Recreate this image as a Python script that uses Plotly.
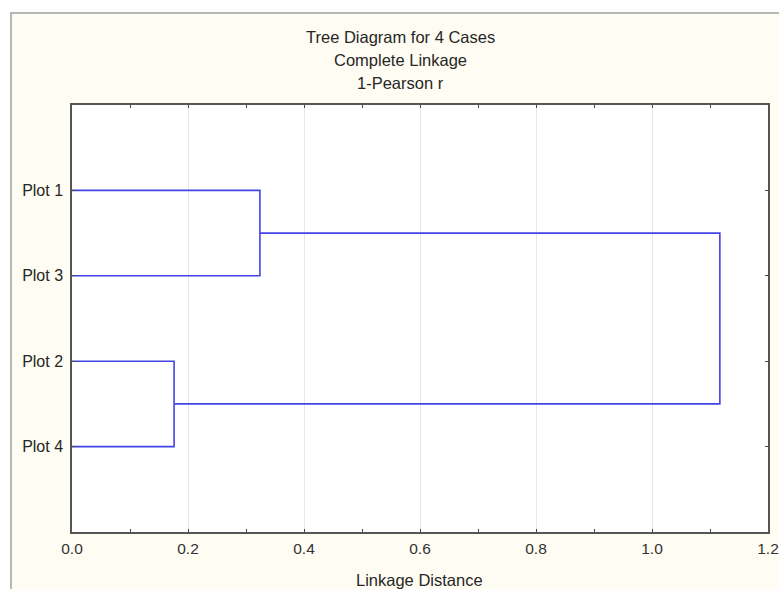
import plotly.graph_objects as go

# Data
leaf_labels = ["Plot 1", "Plot 3", "Plot 2", "Plot 4"]
# merges: (left member, right member, linkage distance); members index leaves (0..3) or clusters (4..)
merge_left = [2, 0, 5]
merge_right = [3, 1, 4]
merge_dist = [0.176, 0.324, 1.117]
x_ticks = [0.0, 0.2, 0.4, 0.6, 0.8, 1.0, 1.2]
title_lines = ["Tree Diagram for 4 Cases", "Complete Linkage", "1-Pearson r"]
x_title = "Linkage Distance"

W, H = 779, 589
ML, MR, MT, MB = 72, 11, 105, 57
PW = W - ML - MR
PH = H - MT - MB

# leaf positions: first label at top
n = len(leaf_labels)
pos = {i: (0.0, n - i) for i in range(n)}  # (x, y)
ys_leaf = [n - i for i in range(n)]

fig = go.Figure()
line_color = "#4444e4"
for k, (a, b, d) in enumerate(zip(merge_left, merge_right, merge_dist)):
    xa, ya = pos[a]
    xb, yb = pos[b]
    fig.add_trace(go.Scatter(
        x=[xa, d, d, xb], y=[ya, ya, yb, yb], mode="lines",
        line=dict(color=line_color, width=1.6), showlegend=False, hoverinfo="skip"))
    pos[n + k] = (d, (ya + yb) / 2)

def px_to_paper_x(px):
    return (px - ML) / PW

def px_to_paper_y(py):
    return 1 - (py - MT) / PH

# outer frame (cream panel)
fig.add_shape(type="rect", xref="paper", yref="paper",
              x0=px_to_paper_x(11), x1=px_to_paper_x(W + 10),
              y0=px_to_paper_y(H + 10), y1=px_to_paper_y(13),
              fillcolor="#fffdf3", line=dict(color="#a0a0a0", width=1.5), layer="below")
fig.add_shape(type="rect", xref="paper", yref="paper", x0=0, x1=1, y0=0, y1=1,
              fillcolor="white", line=dict(width=0), layer="below")

for i, t in enumerate(title_lines):
    fig.add_annotation(text=t, xref="paper", yref="paper",
                       x=px_to_paper_x(400), y=px_to_paper_y(37 + 23 * i),
                       showarrow=False, xanchor="center", yanchor="middle",
                       font=dict(size=16.5, color="#262626"))
fig.add_annotation(text=x_title, xref="paper", yref="paper",
                   x=px_to_paper_x(419), y=px_to_paper_y(580),
                   showarrow=False, xanchor="center", yanchor="middle",
                   font=dict(size=16.5, color="#262626"))

fig.update_layout(
    width=W, height=H,
    margin=dict(l=ML, r=MR, t=MT, b=MB, autoexpand=False),
    paper_bgcolor="white", plot_bgcolor="rgba(0,0,0,0)",
    font=dict(family="Liberation Sans, Arial, sans-serif", size=15, color="#262626"),
    xaxis=dict(range=[0, 1.2], tickvals=x_ticks, ticktext=[f"{v:.1f}" for v in x_ticks],
               automargin=False, ticklabelstandoff=2,
               showgrid=True, gridcolor="#e6e6e6", gridwidth=1,
               showline=True, linecolor="#555555", linewidth=1.5, mirror="ticks",
               ticks="inside", ticklen=3, tickcolor="#444444",
               minor=dict(dtick=0.1, ticks="inside", ticklen=3, tickcolor="#444444", showgrid=False),
               zeroline=False, tickfont=dict(size=15.5, color="#333333")),
    yaxis=dict(range=[0, n + 1], tickvals=ys_leaf, ticktext=leaf_labels,
               automargin=False, ticklabelstandoff=4,
               showgrid=False, showline=True, linecolor="#555555", linewidth=1.5,
               mirror="ticks", ticks="inside", ticklen=3, tickcolor="#444444",
               zeroline=False, tickfont=dict(size=16, color="#262626")),
)

fig.write_html("out.html")
